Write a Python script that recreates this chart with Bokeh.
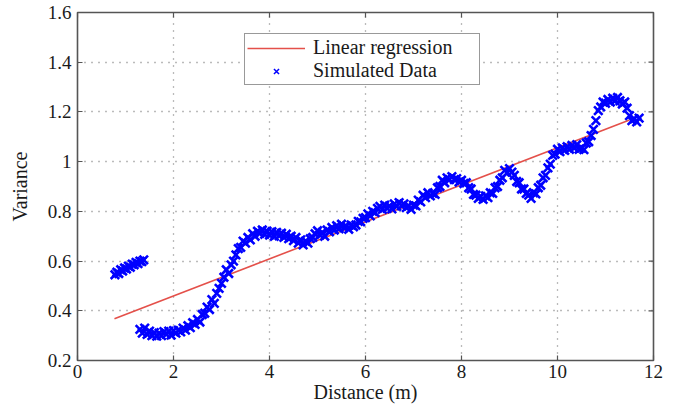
import math
from bokeh.plotting import figure
from bokeh.models import FixedTicker, Range1d, Legend, LegendItem
from bokeh.embed import file_html
from bokeh.resources import INLINE

# ---------------- data ----------------
sim_x = [
    0.78, 0.82, 0.86, 0.90, 0.94, 0.98, 1.02, 1.06, 1.10, 1.14, 1.18, 1.22, 1.26, 1.30, 1.34, 1.38,
    1.30, 1.35, 1.40, 1.45, 1.50, 1.55, 1.60, 1.65, 1.70, 1.75,
    1.80, 1.85, 1.90, 1.95, 2.00, 2.05, 2.10, 2.15, 2.20, 2.25,
    2.30, 2.35, 2.40, 2.45, 2.50, 2.55, 2.60, 2.65, 2.70, 2.75,
    2.80, 2.85, 2.90, 2.95, 3.00, 3.05, 3.10, 3.15, 3.20, 3.25,
    3.30, 3.35, 3.40, 3.45, 3.50, 3.55, 3.60, 3.65, 3.70, 3.75,
    3.80, 3.85, 3.90, 3.95, 4.00, 4.05, 4.10, 4.15, 4.20, 4.25,
    4.30, 4.35, 4.40, 4.45, 4.50, 4.55, 4.60, 4.65, 4.70, 4.75,
    4.80, 4.85, 4.90, 4.95, 5.00, 5.05, 5.10, 5.15, 5.20, 5.25,
    5.30, 5.35, 5.40, 5.45, 5.50, 5.55, 5.60, 5.65, 5.70, 5.75,
    5.80, 5.85, 5.90, 5.95, 6.00, 6.05, 6.10, 6.15, 6.20, 6.25,
    6.30, 6.35, 6.40, 6.45, 6.50, 6.55, 6.60, 6.65, 6.70, 6.75,
    6.80, 6.85, 6.90, 6.95, 7.00, 7.05, 7.10, 7.15, 7.20, 7.25,
    7.30, 7.35, 7.40, 7.45, 7.50, 7.55, 7.60, 7.65, 7.70, 7.75,
    7.80, 7.85, 7.90, 7.95, 8.00, 8.05, 8.10, 8.15, 8.20, 8.25,
    8.30, 8.35, 8.40, 8.45, 8.50, 8.55, 8.60, 8.65, 8.70, 8.75,
    8.80, 8.85, 8.90, 8.95, 9.00, 9.05, 9.10, 9.15, 9.20, 9.25,
    9.30, 9.35, 9.40, 9.45, 9.50, 9.55, 9.60, 9.65, 9.70, 9.75,
    9.80, 9.85, 9.90, 9.95, 10.00, 10.05, 10.10, 10.15, 10.20, 10.25,
    10.30, 10.35, 10.40, 10.45, 10.50, 10.55, 10.60, 10.65, 10.70, 10.75,
    10.80, 10.85, 10.90, 10.95, 11.00, 11.05, 11.10, 11.15, 11.20, 11.25,
    11.30, 11.35, 11.40, 11.45, 11.50, 11.55, 11.60, 11.65, 11.70,
]
sim_y = [
    0.545, 0.555, 0.550, 0.565, 0.560, 0.572, 0.568, 0.580, 0.575, 0.588, 0.585, 0.595, 0.590, 0.600, 0.598, 0.605,
    0.325, 0.310, 0.330, 0.305, 0.318, 0.300, 0.312, 0.298, 0.310, 0.300,
    0.316, 0.305, 0.318, 0.302, 0.320, 0.310, 0.322, 0.315, 0.330, 0.322,
    0.340, 0.332, 0.352, 0.345, 0.365, 0.355, 0.385, 0.390, 0.415, 0.405,
    0.445, 0.430, 0.470, 0.490, 0.510, 0.535, 0.565, 0.550, 0.585, 0.600,
    0.625, 0.650, 0.655, 0.680, 0.672, 0.695, 0.685, 0.710, 0.700, 0.720,
    0.712, 0.725, 0.708, 0.720, 0.705, 0.718, 0.700, 0.715, 0.702, 0.712,
    0.695, 0.708, 0.690, 0.700, 0.682, 0.695, 0.672, 0.685, 0.665, 0.680,
    0.672, 0.690, 0.695, 0.710, 0.722, 0.705, 0.715, 0.700, 0.725, 0.718,
    0.735, 0.725, 0.742, 0.730, 0.748, 0.735, 0.740, 0.728, 0.745, 0.738,
    0.745, 0.760, 0.758, 0.772, 0.775, 0.790, 0.782, 0.800, 0.795, 0.812,
    0.820, 0.808, 0.825, 0.812, 0.822, 0.810, 0.830, 0.820, 0.835, 0.822,
    0.830, 0.815, 0.822, 0.808, 0.825, 0.822, 0.845, 0.838, 0.865, 0.855,
    0.875, 0.862, 0.872, 0.868, 0.895, 0.900, 0.925, 0.915, 0.935, 0.928,
    0.940, 0.928, 0.932, 0.918, 0.925, 0.912, 0.915, 0.895, 0.890, 0.868,
    0.865, 0.852, 0.860, 0.848, 0.862, 0.855, 0.875, 0.872, 0.895, 0.900,
    0.925, 0.935, 0.965, 0.955, 0.972, 0.958, 0.945, 0.920, 0.915, 0.890,
    0.890, 0.872, 0.865, 0.852, 0.875, 0.870, 0.895, 0.905, 0.935, 0.945,
    0.975, 0.990, 1.025, 1.030, 1.050, 1.040, 1.055, 1.045, 1.060, 1.050,
    1.065, 1.055, 1.068, 1.050, 1.055, 1.048, 1.075, 1.080, 1.105, 1.130,
    1.165, 1.205, 1.220, 1.240, 1.235, 1.250, 1.240, 1.255, 1.245, 1.258,
    1.245, 1.232, 1.240, 1.215, 1.185, 1.165, 1.172, 1.160, 1.175,
]
reg_x = [0.77, 11.5]
reg_y = [0.368, 1.168]

x_ticks = [0, 2, 4, 6, 8, 10, 12]
y_ticks = [0.2, 0.4, 0.6, 0.8, 1.0, 1.2, 1.4, 1.6]
y_tick_labels = ["0.2", "0.4", "0.6", "0.8", "1", "1.2", "1.4", "1.6"]

series_names = ["Linear regression", "Simulated Data"]
x_label = "Distance (m)"
y_label = "Variance"

# ---------------- styling ----------------
FONT = "Liberation Serif"
TXT = "#1a1a1a"
FRAME = "#555555"
BLUE = "#0000ff"
X0, X1 = x_ticks[0], x_ticks[-1]
Y0, Y1 = y_ticks[0], y_ticks[-1]

p = figure(width=680, height=405, output_backend="svg", toolbar_location=None,
           x_range=Range1d(X0, X1), y_range=Range1d(Y0, Y1),
           min_border_left=77, min_border_right=27, min_border_top=12, min_border_bottom=43)
p.background_fill_color = "white"
p.border_fill_color = "white"
p.outline_line_color = FRAME
p.outline_line_width = 1.6

for g in (p.xgrid[0], p.ygrid[0]):
    g.grid_line_color = "#777777"
    g.grid_line_dash = "1 6"
    g.grid_line_width = 1.3

reg = p.line(reg_x, reg_y, line_color="#e4504a", line_width=1.6)
p.scatter(sim_x, sim_y, marker="x", size=12, line_color=BLUE, line_width=2.6)
# smaller copy of the first sample, hidden inside the cloud, used as the legend key
sim_key = p.scatter(sim_x[:1], sim_y[:1], marker="x", size=7, line_color=BLUE, line_width=1.5)

# inward tick marks on the right and top edges (clipped to the frame)
p.scatter([X1] * len(y_ticks), y_ticks, marker="dash", size=10,
          line_color=FRAME, line_width=1.2)
p.scatter(x_ticks, [Y1] * len(x_ticks), marker="dash", size=10, angle=math.pi / 2,
          line_color=FRAME, line_width=1.2)

for ax in (p.xaxis[0], p.yaxis[0]):
    ax.axis_line_color = None
    ax.major_tick_in = 5
    ax.major_tick_out = 0
    ax.minor_tick_line_color = None
    ax.major_tick_line_color = FRAME
    ax.major_tick_line_width = 1.2
    ax.major_label_text_font = FONT
    ax.major_label_text_font_size = "19px"
    ax.major_label_text_color = TXT
    ax.axis_label_text_font = FONT
    ax.axis_label_text_font_size = "20px"
    ax.axis_label_text_font_style = "normal"
    ax.axis_label_text_color = TXT

p.xaxis[0].ticker = FixedTicker(ticks=x_ticks)
p.yaxis[0].ticker = FixedTicker(ticks=y_ticks)
p.yaxis[0].major_label_overrides = dict(zip(y_ticks, y_tick_labels))
p.xaxis[0].axis_label = x_label
p.yaxis[0].axis_label = y_label
p.xaxis[0].major_label_standoff = 4
p.xaxis[0].axis_label_standoff = 0
p.yaxis[0].major_label_standoff = 6
p.yaxis[0].axis_label_standoff = 14

legend = Legend(items=[LegendItem(label=series_names[0], renderers=[reg]),
                       LegendItem(label=series_names[1], renderers=[sim_key])],
                location=(167, 275))
legend.label_text_font = FONT
legend.label_text_font_size = "20px"
legend.label_text_color = TXT
legend.border_line_color = "#333333"
legend.border_line_width = 1.3
legend.background_fill_color = "white"
legend.background_fill_alpha = 1.0
legend.padding = 2
legend.spacing = 0
legend.margin = 0
legend.glyph_width = 58
legend.glyph_height = 18
legend.label_height = 18
legend.label_standoff = 8
legend.label_width = 164
p.add_layout(legend, "center")

open("out.html", "w").write(file_html(p, INLINE))
